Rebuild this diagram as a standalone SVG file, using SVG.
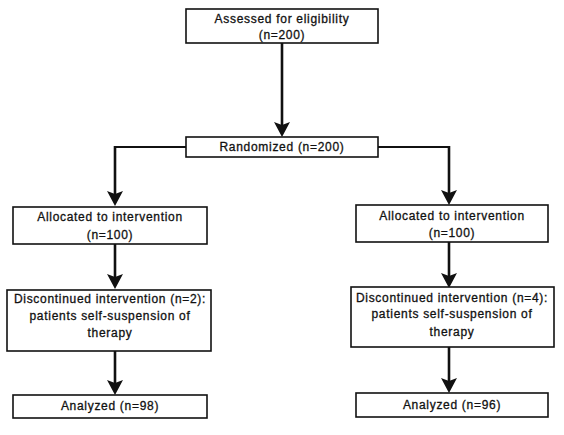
<svg xmlns="http://www.w3.org/2000/svg" width="564" height="435" viewBox="0 0 564 435">
<style>
.box{fill:#fff;stroke:#111;stroke-width:1.6}
.t{font-family:"Liberation Sans",Arial,sans-serif;font-size:12px;letter-spacing:0.7px;fill:#111;stroke:#111;stroke-width:0.3;text-anchor:middle}
.c{fill:none;stroke:#111;stroke-width:2.6}
.h{fill:none;stroke:#111;stroke-width:2}
.ah{fill:#111}
</style>
<rect width="564" height="435" fill="#fff"/>
<g id="connectors">
<path class="c" d="M282,43 V126"/>
<path class="h" d="M186,147 H115"/>
<path class="c" d="M115,146 V195"/>
<path class="h" d="M378,147 H449"/>
<path class="c" d="M449,146 V194"/>
<path class="c" d="M115,244 V278"/>
<path class="c" d="M449,242 V277"/>
<path class="c" d="M115,351 V384"/>
<path class="c" d="M449,347 V382"/>
<path class="ah" d="M274,122 L282,125 L290,122 L282,137 Z"/>
<path class="ah" d="M107,191 L115,194 L123,191 L115,206 Z"/>
<path class="ah" d="M441,190 L449,193 L457,190 L449,205 Z"/>
<path class="ah" d="M107,274 L115,277 L123,274 L115,289 Z"/>
<path class="ah" d="M441,273 L449,276 L457,273 L449,288 Z"/>
<path class="ah" d="M107,380 L115,383 L123,380 L115,395 Z"/>
<path class="ah" d="M441,378 L449,381 L457,378 L449,393 Z"/>
</g>
<g id="assessed">
<rect class="box" x="186" y="9" width="192" height="34"/>
<text class="t" x="282" y="23">Assessed for eligibility</text>
<text class="t" x="282" y="39">(n=200)</text>
</g>
<g id="randomized">
<rect class="box" x="186" y="137" width="192" height="20"/>
<text class="t" x="282" y="151">Randomized (n=200)</text>
</g>
<g id="alloc-left">
<rect class="box" x="13" y="207" width="194" height="37"/>
<text class="t" x="110" y="221">Allocated to intervention</text>
<text class="t" x="110" y="239">(n=100)</text>
</g>
<g id="alloc-right">
<rect class="box" x="356" y="205" width="192" height="37"/>
<text class="t" x="452" y="220">Allocated to intervention</text>
<text class="t" x="452" y="237">(n=100)</text>
</g>
<g id="disc-left">
<rect class="box" x="7" y="290" width="204" height="61"/>
<text class="t" x="110" y="303">Discontinued intervention (n=2):</text>
<text class="t" x="110" y="320">patients self-suspension of</text>
<text class="t" x="110" y="337">therapy</text>
</g>
<g id="disc-right">
<rect class="box" x="351" y="287" width="203" height="60"/>
<text class="t" x="452" y="302">Discontinued intervention (n=4):</text>
<text class="t" x="452" y="318">patients self-suspension of</text>
<text class="t" x="452" y="336">therapy</text>
</g>
<g id="analyzed-left">
<rect class="box" x="13" y="395" width="194" height="23"/>
<text class="t" x="110" y="410">Analyzed (n=98)</text>
</g>
<g id="analyzed-right">
<rect class="box" x="356" y="393" width="192" height="24"/>
<text class="t" x="452" y="409">Analyzed (n=96)</text>
</g>
</svg>
